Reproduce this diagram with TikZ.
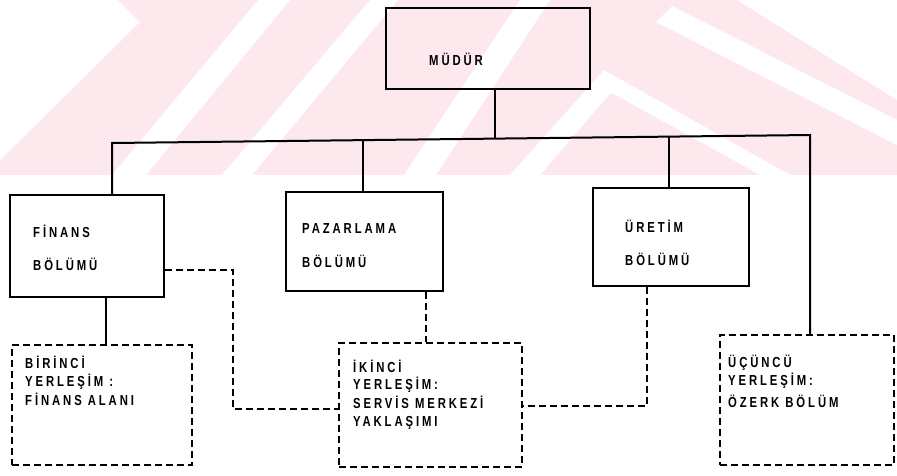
\documentclass[tikz,border=0pt]{standalone}
\usepackage{fontspec}
\newfontfamily\orgfont{Liberation Sans}[FakeStretch=0.78,LetterSpace=20]
\definecolor{wmpink}{RGB}{253,233,237}
\tikzset{
  wire/.style={line width=2pt},
  dashwire/.style={wire, dash pattern=on 7pt off 4pt},
  solidbox/.style={draw, wire, inner sep=0pt},
  dashbox/.style={draw, dashwire, inner sep=0pt},
  lbl/.style={anchor=base west, inner sep=0pt, font=\orgfont\bfseries\fontsize{14.5}{17}\selectfont}
}

\begin{document}
\begin{tikzpicture}[x=1pt,y=-1pt]
			\useasboundingbox (0,0) rectangle (897,475);
			
			%%%%% WATERMARK %%%%%
			\begin{scope}
			\clip (0,0) rectangle (897,175);
			\fill[wmpink] (0,0) rectangle (897,175);
			\fill[white] (0,0) -- (118,0) -- (140,22) -- (0,160) -- cycle;
			\fill[white] (258,0) -- (290,0) -- (146,175) -- (112,175) -- cycle;
			\fill[white] (370,0) -- (398,0) -- (252,175) -- (222,175) -- cycle;
			\fill[white] (520,0) -- (550,0) -- (436,175) -- (404,175) -- cycle;
			\fill[white] (604,70) -- (620,82) -- (540,175) -- (510,175) -- cycle;
			\fill[white] (604,70) -- (790,175) -- (760,175) -- (596,84) -- cycle;
			\fill[white] (656,22) -- (672,6) -- (897,120) -- (897,145) -- cycle;
			\fill[white] (737,0) -- (897,0) -- (897,100) -- cycle;
			\end{scope}
			
			%%%%% BOXES %%%%%
			\node[solidbox, minimum width=204pt, minimum height=81pt] (mudur) at (488,48.5) {};
			\node[solidbox, minimum width=154pt, minimum height=102pt] (fin) at (87,246) {};
			\node[solidbox, minimum width=157pt, minimum height=99pt] (paz) at (364.5,241.5) {};
			\node[solidbox, minimum width=156pt, minimum height=98pt] (ure) at (671,237) {};
			
			\node[dashbox, minimum width=180pt, minimum height=120pt] (bir) at (102,405) {};
			\node[dashbox, minimum width=183pt, minimum height=124pt] (iki) at (430.5,405) {};
			\node[dashbox, minimum width=174pt, minimum height=130pt] (ucu) at (807,400) {};
			
			%%%%% TEXTS %%%%%
			\node[lbl] (mudurT) at (429,65) {MÜDÜR};
			
			\node[lbl] (finT1) at (33,237) {FİNANS};
			\node[lbl] (finT2) at (33,270) {BÖLÜMÜ};
			
			\node[lbl] (pazT1) at (302,233) {PAZARLAMA};
			\node[lbl] (pazT2) at (302,267) {BÖLÜMÜ};
			
			\node[lbl] (ureT1) at (625,232) {ÜRETİM};
			\node[lbl] (ureT2) at (625,265) {BÖLÜMÜ};
			
			\node[lbl] (birT1) at (25,368) {BİRİNCİ};
			\node[lbl] (birT2) at (25,386) {YERLEŞİM :};
			\node[lbl] (birT3) at (25,405) {FİNANS ALANI};
			
			\node[lbl] (ikiT1) at (353,372) {İKİNCİ};
			\node[lbl] (ikiT2) at (353,389) {YERLEŞİM:};
			\node[lbl] (ikiT3) at (353,408) {SERVİS MERKEZİ};
			\node[lbl] (ikiT4) at (353,426) {YAKLAŞIMI};
			
			\node[lbl] (ucuT1) at (728,367) {ÜÇÜNCÜ};
			\node[lbl] (ucuT2) at (728,385) {YERLEŞİM:};
			\node[lbl] (ucuT3) at (728,407) {ÖZERK BÖLÜM};
			
			%%%%% SOLID LINES %%%%%
			\coordinate (busL) at (112,143);
			\coordinate (busP) at (363,140);
			\coordinate (busM) at (495,138.6);
			\coordinate (busU) at (669,136.6);
			\coordinate (busR) at (810,135);
			\coordinate (fdrop) at (106,320);
			
			\draw[wire] (mudur.south -| busM) -- (busM);
			\draw[wire] (fin.north -| busL) -- (busL) -- (busR) -- (busR |- ucu.north);
			\draw[wire] (busP) -- (busP |- paz.north);
			\draw[wire] (busU) -- (busU |- ure.north);
			\draw[wire] (fin.south -| fdrop) -- (bir.north -| fdrop);
			
			%%%%% DASHED LINES %%%%%
			\coordinate (fkink) at (233,270);
			\coordinate (fkink2) at (233,409);
			\coordinate (pdrop) at (426,320);
			\coordinate (ukink) at (647,406);
			
			\draw[dashwire] (fkink -| fin.east) -- (fkink) -- (fkink2) -- (fkink2 -| iki.west);
			\draw[dashwire] (paz.south -| pdrop) -- (iki.north -| pdrop);
			\draw[dashwire] (ure.south -| ukink) -- (ukink) -- (ukink -| iki.east);
			
		\end{tikzpicture}
\end{document}
